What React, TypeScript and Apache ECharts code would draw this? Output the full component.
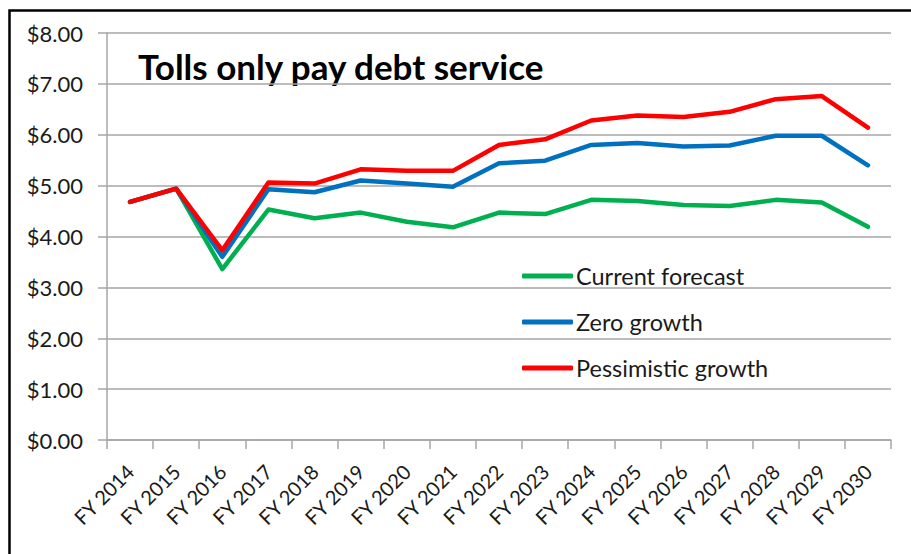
import React, { useEffect, useRef } from "react";
import * as echarts from "echarts";

const categories = [
  "FY 2014", "FY 2015", "FY 2016", "FY 2017", "FY 2018", "FY 2019", "FY 2020", "FY 2021", "FY 2022",
  "FY 2023", "FY 2024", "FY 2025", "FY 2026", "FY 2027", "FY 2028", "FY 2029", "FY 2030",
];
const currentForecast = [4.68, 4.94, 3.36, 4.53, 4.36, 4.47, 4.29, 4.18, 4.47, 4.44, 4.72, 4.70, 4.62, 4.60, 4.72, 4.67, 4.19];
const zeroGrowth = [4.68, 4.94, 3.60, 4.93, 4.87, 5.10, 5.04, 4.98, 5.44, 5.49, 5.80, 5.84, 5.77, 5.79, 5.98, 5.98, 5.40];
const pessimisticGrowth = [4.68, 4.94, 3.73, 5.06, 5.04, 5.32, 5.29, 5.29, 5.80, 5.91, 6.28, 6.38, 6.35, 6.45, 6.70, 6.76, 6.14];
const seriesNames = ["Current forecast", "Zero growth", "Pessimistic growth"];
const titleText = "Tolls only pay debt service";

const FONT = "Lato, 'Open Sans', sans-serif";
const GRID = "#a6a6a6";

export default function App() {
  const ref = useRef<HTMLDivElement>(null);
  useEffect(() => {
    document.body.style.margin = "0";
    const chart = echarts.init(ref.current!, null, { renderer: "svg" });
    const mk = (name: string, data: number[], color: string, z: number) => ({
      name,
      type: "line",
      data,
      symbol: "none",
      z,
      lineStyle: { color, width: 4.5, cap: "round", join: "round" },
      itemStyle: { color },
    });
    chart.setOption({
      animation: false,
      backgroundColor: "#ffffff",
      textStyle: { fontFamily: FONT },
      grid: { left: 107, right: 20, top: 33, bottom: 114, containLabel: false },
      legend: {
        orient: "vertical",
        left: 522,
        top: 264,
        padding: 0,
        itemWidth: 51,
        itemHeight: 5,
        itemGap: 22,
        icon: "roundRect",
        textStyle: { fontFamily: FONT, fontSize: 23.5, color: "#1a1a1a", padding: [0, 0, 0, -2] },
        data: seriesNames,
      },
      xAxis: {
        type: "category",
        data: categories,
        boundaryGap: true,
        axisLine: { lineStyle: { color: GRID, width: 1.5 } },
        axisTick: { show: true, length: 9, lineStyle: { color: GRID, width: 1.5 } },
        axisLabel: {
          interval: 0,
          rotate: 45,
          margin: 28,
          fontFamily: FONT,
          fontSize: 20,
          color: "#1a1a1a",
        },
      },
      yAxis: {
        type: "value",
        min: 0,
        max: 8,
        interval: 1,
        axisLine: { show: true, lineStyle: { color: GRID, width: 1.5 } },
        axisTick: { show: true, length: 9, lineStyle: { color: GRID, width: 1.5 } },
        splitLine: { lineStyle: { color: GRID, width: 1.5 } },
        axisLabel: {
          margin: 24,
          fontFamily: FONT,
          fontSize: 22,
          color: "#1a1a1a",
          formatter: (v: number) => "$" + v.toFixed(2),
        },
      },
      graphic: [
        {
          type: "rect",
          shape: { x: 9.5, y: 10.5, width: 1000, height: 1000 },
          style: { fill: "none", stroke: "#000", lineWidth: 2.5 },
          silent: true,
        },
        {
          type: "text",
          x: 138,
          y: 66,
          style: {
            text: titleText,
            fontFamily: FONT,
            fontWeight: "bold",
            fontSize: 35,
            fill: "#000",
            verticalAlign: "middle",
            align: "left",
          },
        },
      ],
      series: [
        mk(seriesNames[0], currentForecast, "#00b050", 3),
        mk(seriesNames[1], zeroGrowth, "#0070c0", 4),
        mk(seriesNames[2], pessimisticGrowth, "#ff0000", 5),
      ],
    });
    return () => chart.dispose();
  }, []);
  return <div ref={ref} style={{ width: 911, height: 554, position: "absolute", left: 0, top: 0 }} />;
}
